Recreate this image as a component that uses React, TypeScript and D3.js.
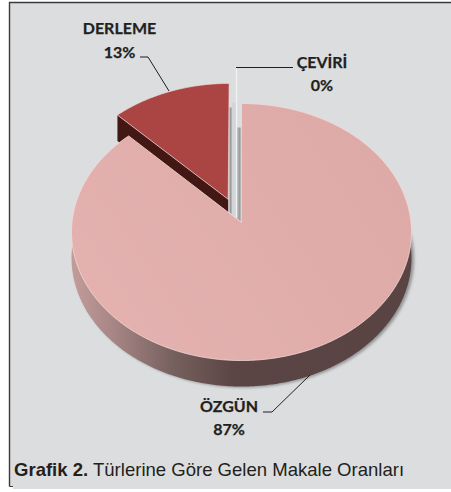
import React from "react";
import * as d3 from "d3";

const categories = ["ÖZGÜN", "DERLEME", "ÇEVİRİ"];
const percents = [87, 13, 0];
const captionBold = "Grafik 2.";
const captionRest = " Türlerine Göre Gelen Makale Oranları";

const W = 451, H = 492;
const cx = 241.5, cy = 222.5, sx = 169.5, sy = 127.8, k = 0.074, depth = 26, warp = 0.04;
const wedgeExplode = 0.2;

const arcs = d3.pie<number>().sort(null).value((d) => d)(percents);
const TAU = Math.PI * 2;

// Homography of the disc plane: nearer (lower) parts of the pie are larger
function project(theta: number, r: number, ex = 0, ey = 0): [number, number] {
  const t = theta - warp * Math.sin(2 * theta);
  const x = r * Math.sin(t) + ex;
  const y = -r * Math.cos(t) + ey;
  const w = 1 - k * y;
  return [cx + (sx * x) / w, cy + (sy * y) / w];
}
const line = d3.line();

function slicePath(a0: number, a1: number, ex = 0, ey = 0) {
  const n = Math.max(2, Math.ceil((a1 - a0) / 0.01));
  const angles = d3.range(n + 1).map((i) => a0 + ((a1 - a0) * i) / n);
  const pts = [project(0, 0, ex, ey), ...angles.map((t) => project(t, 1, ex, ey))];
  return line(pts) + "Z";
}

const [main, wedge] = arcs;
const mid = (wedge.startAngle + wedge.endAngle) / 2;
const wx = Math.sin(mid) * wedgeExplode, wy = -Math.cos(mid) * wedgeExplode;
const mainPath = slicePath(main.startAngle, main.endAngle);
const wedgePath = slicePath(wedge.startAngle, wedge.endAngle, wx, wy);
const wApex = project(0, 0, wx, wy);
const wLeft = project(wedge.startAngle, 1, wx, wy);
const wallPath = line([wApex, wLeft, [wLeft[0], wLeft[1] + depth], [wApex[0], wApex[1] + depth]]) + "Z";

const tip = project(0, 0);
const top = project(TAU, 1);
const wRight = project(wedge.endAngle, 1, wx, wy);

const font = "Lato, 'Open Sans', sans-serif";
const ink = "#231f20";
const labels = [
  { name: categories[1], pct: percents[1], x: 119.5, y: 34, dy: 24 },
  { name: categories[2], pct: percents[2], x: 322, y: 68, dy: 23 },
  { name: categories[0], pct: percents[0], x: 229, y: 412, dy: 22.5 },
];
const leaders = [
  [[140, 57], [148, 57], [169, 91]],
  [[236, 67.5], [293, 67.5]],
  [[263, 412], [272, 412], [310, 375]],
] as [number, number][][];

export default function App() {
  return (
    <svg width={W} height={H} viewBox={`0 0 ${W} ${H}`}
      style={{ position: "absolute", left: 0, top: 0, display: "block" }}>
      <defs>
        <linearGradient id="side" gradientUnits="userSpaceOnUse" x1={cx - sx} x2={cx + sx} y1={0} y2={0}>
          <stop offset="0" stopColor="#c29c9b" />
          <stop offset="0.12" stopColor="#a88685" />
          <stop offset="0.3" stopColor="#75605e" />
          <stop offset="0.48" stopColor="#5b4544" />
          <stop offset="1" stopColor="#5a4443" />
        </linearGradient>
        <linearGradient id="face" gradientUnits="userSpaceOnUse" x1={cx - sx} x2={cx + sx} y1={350} y2={120}>
          <stop offset="0" stopColor="#e4b2b0" />
          <stop offset="1" stopColor="#dda9a7" />
        </linearGradient>
        <linearGradient id="gapL" x1="0" x2="1" y1="0" y2="0">
          <stop offset="0" stopColor="#87898a" />
          <stop offset="1" stopColor="#d3d6d9" />
        </linearGradient>
        <linearGradient id="gapR" x1="0" x2="1" y1="0" y2="0">
          <stop offset="0" stopColor="#c2c4c6" />
          <stop offset="0.6" stopColor="#9c9ea0" />
          <stop offset="1" stopColor="#c8cacc" />
        </linearGradient>
        <filter id="blur" x="-10%" y="-10%" width="120%" height="120%">
          <feGaussianBlur stdDeviation="1.5" />
        </filter>
      </defs>

      <rect width={W} height={H} fill="#fff" />
      <path d={`M10,3H${W}V489H13V486H10Z`} fill="#dcddde" />
      <path d={`M9.5,486.5V2.5H${W}`} fill="none" stroke="#3a3a3a" strokeWidth={1.4} />
      <path d="M9.5,486.5H13" fill="none" stroke="#3a3a3a" strokeWidth={1} />

      {/* drop shadow under the extruded main slice */}
      <path d={mainPath} transform={`translate(2.5,${depth + 1})`} fill="#7d7f81" filter="url(#blur)" opacity={0.8} />

      {/* ÇEVİRİ 0% sliver: its two cut faces in the gap */}
      <path d={line([[wRight[0] + 0.5, tip[1] - 115], [wRight[0] + 4, tip[1] - 115], [wRight[0] + 4, tip[1] - 7], [wRight[0] + 0.5, tip[1] - 10]])! + "Z"} fill="url(#gapL)" />
      <path d={line([[tip[0] - 9.5, tip[1] - 120], [tip[0] - 5, tip[1] - 120], [tip[0] - 5, tip[1] - 4], [tip[0] - 9.5, tip[1] - 7]])! + "Z"} fill="#d3d6d9" />
      <path d={line([[tip[0] - 5, tip[1] - 95], [tip[0], tip[1] - 95], [tip[0], tip[1]], [tip[0] - 5, tip[1] - 4]])! + "Z"} fill="url(#gapR)" />
      <path d={line([[tip[0] - 5, top[1] - 35], [tip[0] - 5, tip[1] - 5]])!} stroke="#f1f2f3" strokeWidth={1.3} fill="none" />

      <path d={wallPath} fill="#431713" />
      <path d={mainPath} transform={`translate(0,${depth})`} fill="url(#side)" />
      <path d={wedgePath} fill="#ab4544" stroke="#ecd9d8" strokeWidth={0.7} />
      <path d={mainPath} fill="url(#face)" stroke="#f3dcdb" strokeWidth={0.8} />

      {leaders.map((pts, i) => (
        <path key={i} d={line(pts)!} fill="none" stroke="#231f20" strokeWidth={1} />
      ))}

      {labels.map((l) => (
        <g key={l.name} fontFamily={font} fontWeight={700} fontSize={16} fill={ink} stroke={ink} strokeWidth={0.25} textAnchor="middle">
          <text x={l.x} y={l.y}>{l.name}</text>
          <text x={l.x} y={l.y + l.dy}>{l.pct}%</text>
        </g>
      ))}

      <text x={14} y={476} fontFamily="'Liberation Sans', Arial, sans-serif" fontSize={18.55} fill={ink} xmlSpace="preserve">
        <tspan fontWeight={700}>{captionBold}</tspan>
        <tspan>{captionRest}</tspan>
      </text>
    </svg>
  );
}
